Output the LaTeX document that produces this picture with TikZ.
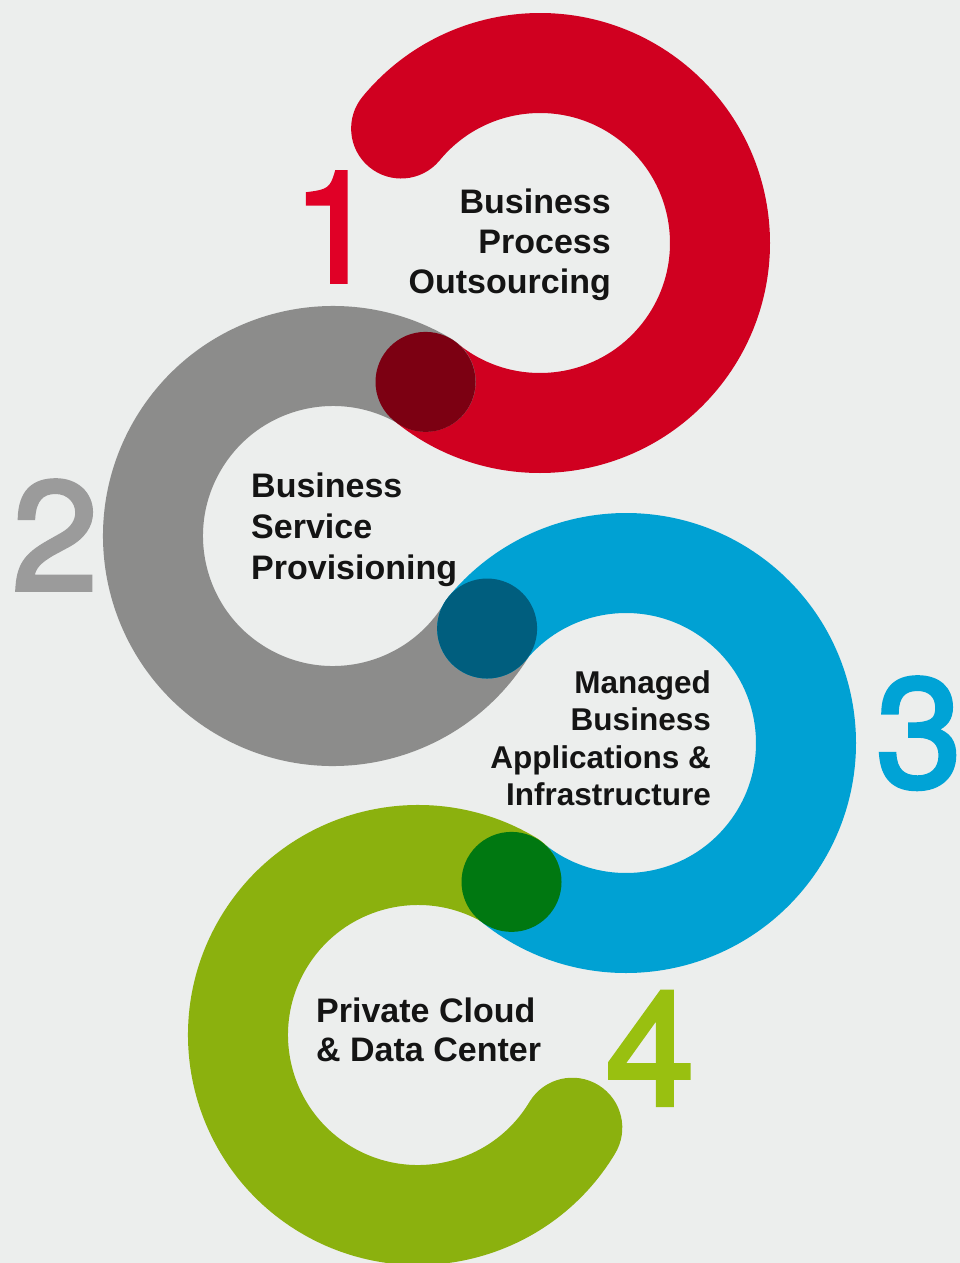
\documentclass[tikz,border=0pt]{standalone}
\usepackage{fontspec}
\setsansfont{Liberation Sans}
\newfontfamily\numfont{TeX Gyre Heros}[FakeBold=2.5]
\usepackage{tikz}
\definecolor{bgclr}{RGB}{236,238,237}
\definecolor{redclr}{RGB}{208,0,32}
\definecolor{grayclr}{RGB}{140,140,139}
\definecolor{blueclr}{RGB}{0,161,211}
\definecolor{greenclr}{RGB}{139,177,14}
\definecolor{darkred}{RGB}{124,0,18}
\definecolor{darkblue}{RGB}{0,94,126}
\definecolor{darkgreen}{RGB}{0,120,17}
\definecolor{numred}{RGB}{224,0,38}
\definecolor{numgray}{RGB}{155,155,155}
\definecolor{numblue}{RGB}{0,163,214}
\definecolor{numgreen}{RGB}{153,192,16}
\definecolor{inkclr}{RGB}{20,20,20}
\tikzset{
  ring/.style={line width=100pt,line cap=round},
  joint/.style={circle,minimum size=100pt,inner sep=0pt},
  digit/.style={anchor=base,inner sep=0pt,
                font=\fontsize{155}{155}\selectfont\numfont},
  lbl/.style={inner sep=0pt,text=inkclr},
}

\begin{document}
\begin{tikzpicture}[x=1pt,y=-1pt]
\fill[bgclr] (0,0) rectangle (960,1263);
\useasboundingbox (0,0) rectangle (960,1263);

% Ring centres
\coordinate (c1) at (540,243);
\coordinate (c2) at (333,536);
\coordinate (c3) at (626,743);
\coordinate (c4) at (418,1035);

% Rings as thick arcs
\draw[ring,redclr]   (c1) ++(-140.5:180) arc[start angle=-140.5,end angle=129.5,radius=180];
\draw[ring,grayclr]  (c2) ++(-59:180)    arc[start angle=-59,end angle=-329,radius=180];
\draw[ring,blueclr]  (c3) ++(-140.5:180) arc[start angle=-140.5,end angle=129.5,radius=180];
\draw[ring,greenclr] (c4) ++(-59:180)    arc[start angle=-59,end angle=-329,radius=180];

% Overlaps where two rings meet
\path (c1) ++(129.5:180) node[joint,fill=darkred]   (j12) {};
\path (c3) ++(-140.5:180) node[joint,fill=darkblue] (j23) {};
\path (c3) ++(129.5:180) node[joint,fill=darkgreen] (j34) {};

% Big numbers
\node[digit,text=numred]   (n1) at (335,282) {1};
\node[digit,text=numgray]  (n2) at (55,590)  {2};
\node[digit,text=numblue]  (n3) at (919,787) {3};
\node[digit,text=numgreen,font=\fontsize{160}{160}\selectfont\numfont] (n4) at (650,1105) {4};

% Labels
\node[lbl,anchor=north east,align=right,font=\fontsize{34}{40}\selectfont\sffamily\bfseries]
  (t1) at (611,189) {Business\\Process\\Outsourcing};
\node[lbl,anchor=north west,align=left,font=\fontsize{34}{41}\selectfont\sffamily\bfseries]
  (t2) at (251,473) {Business\\Service\\Provisioning};
\node[lbl,anchor=north east,align=right,font=\fontsize{31.5}{37.5}\selectfont\sffamily\bfseries]
  (t3) at (711,670) {Managed\\Business\\Applications \&\\Infrastructure};
\node[lbl,anchor=north west,align=left,font=\fontsize{34}{39}\selectfont\sffamily\bfseries]
  (t4) at (316,998) {Private Cloud\\\& Data Center};
\end{tikzpicture}
\end{document}
